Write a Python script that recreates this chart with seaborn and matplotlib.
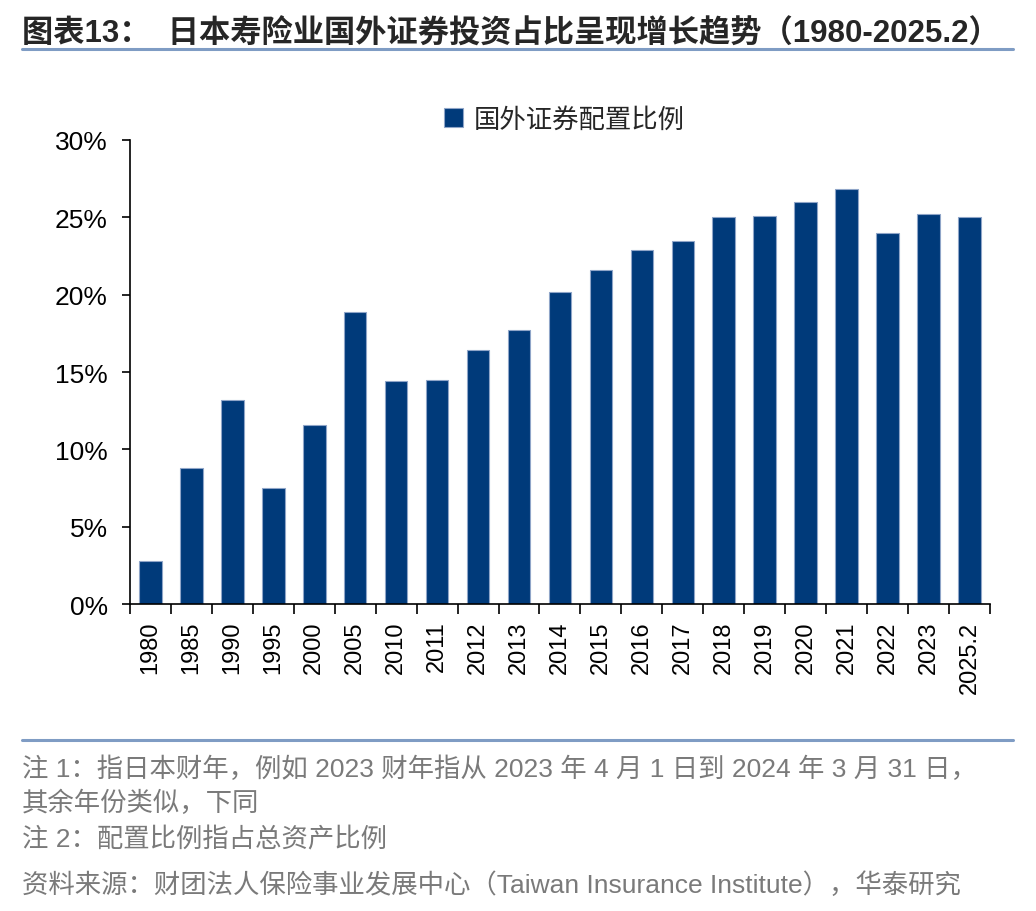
import numpy as np
import pandas as pd
import matplotlib
matplotlib.use("Agg")
import matplotlib.pyplot as plt
import seaborn as sns
from matplotlib.ticker import FixedLocator, PercentFormatter

years = ["1980", "1985", "1990", "1995", "2000", "2005", "2010", "2011", "2012", "2013",
         "2014", "2015", "2016", "2017", "2018", "2019", "2020", "2021", "2022", "2023", "2025.2"]
share = [2.8, 8.8, 13.2, 7.5, 11.6, 18.9, 14.4, 14.5, 16.4, 17.7,
         20.2, 21.6, 22.9, 23.5, 25.0, 25.1, 26.0, 26.8, 24.0, 25.2, 25.0]
series_name = "国外证券配置比例"

sns.set_theme(style="white")
plt.rcParams['font.family'] = ['Liberation Sans', 'Noto Sans CJK SC', 'DejaVu Sans']

df = pd.DataFrame({"year": years, "share": share, "series": series_name})

fig = plt.figure(figsize=(10.36, 9.12), dpi=100)
ax = fig.add_axes([0.1255, 0.3366, 0.830, 0.5088])

sns.barplot(data=df, x="year", y="share", hue="series", palette=["#003A7A"],
            saturation=1, width=0.55, edgecolor="#8FA5C8", linewidth=0.8, ax=ax, legend=True)

ax.set_ylim(0, 30)
ax.set_xlim(-0.5, len(years) - 0.5)
ax.yaxis.set_major_locator(FixedLocator([0, 5, 10, 15, 20, 25, 30]))
ax.yaxis.set_major_formatter(PercentFormatter(decimals=0))
ax.set_xlabel("")
ax.set_ylabel("")
for s in ["top", "right"]:
    ax.spines[s].set_visible(False)
for s in ["left", "bottom"]:
    ax.spines[s].set_color("black")
    ax.spines[s].set_linewidth(1.2)

ax.tick_params(axis="y", which="major", direction="out", length=6, width=1.2,
               color="black", left=True, labelsize=19, labelcolor="black", pad=10)
ax.tick_params(axis="x", which="major", length=0, labelsize=17, labelcolor="black",
               rotation=90, pad=12)
ax.xaxis.set_minor_locator(FixedLocator(np.arange(-0.5, len(years), 1.0)))
ax.tick_params(axis="x", which="minor", direction="out", length=7, width=1.2,
               color="black", bottom=True)

leg = ax.legend(loc="upper center", bbox_to_anchor=(0.505, 1.125), frameon=False,
                handlelength=0.7, handleheight=0.7, handletextpad=0.4,
                prop={"family": ["Noto Sans CJK SC"], "size": 19})

# Title and rules
fig.text(0.021, 0.962, "图表13：  日本寿险业国外证券投资占比呈现增长趋势（1980-2025.2）",
         fontsize=22.5, fontweight="bold", ha="left", va="center",
         family=["Liberation Sans", "Noto Sans CJK SC"])
fig.add_artist(plt.Line2D([0.021, 0.978], [0.945, 0.945], color="#7F9CC4", linewidth=2.2))
fig.add_artist(plt.Line2D([0.021, 0.978], [0.187, 0.187], color="#7F9CC4", linewidth=2.2))

notes = [
    ("注 1：指日本财年，例如 2023 财年指从 2023 年 4 月 1 日到 2024 年 3 月 31 日，", 0.157),
    ("其余年份类似，下同", 0.119),
    ("注 2：配置比例指占总资产比例", 0.079),
    ("资料来源：财团法人保险事业发展中心（Taiwan Insurance Institute），华泰研究", 0.029),
]
for txt, y in notes:
    fig.text(0.021, y, txt, fontsize=19, color="#7A7A7A", ha="left", va="center",
             family=["Liberation Sans", "Noto Sans CJK SC"])

fig.savefig("out.png", dpi=100)
